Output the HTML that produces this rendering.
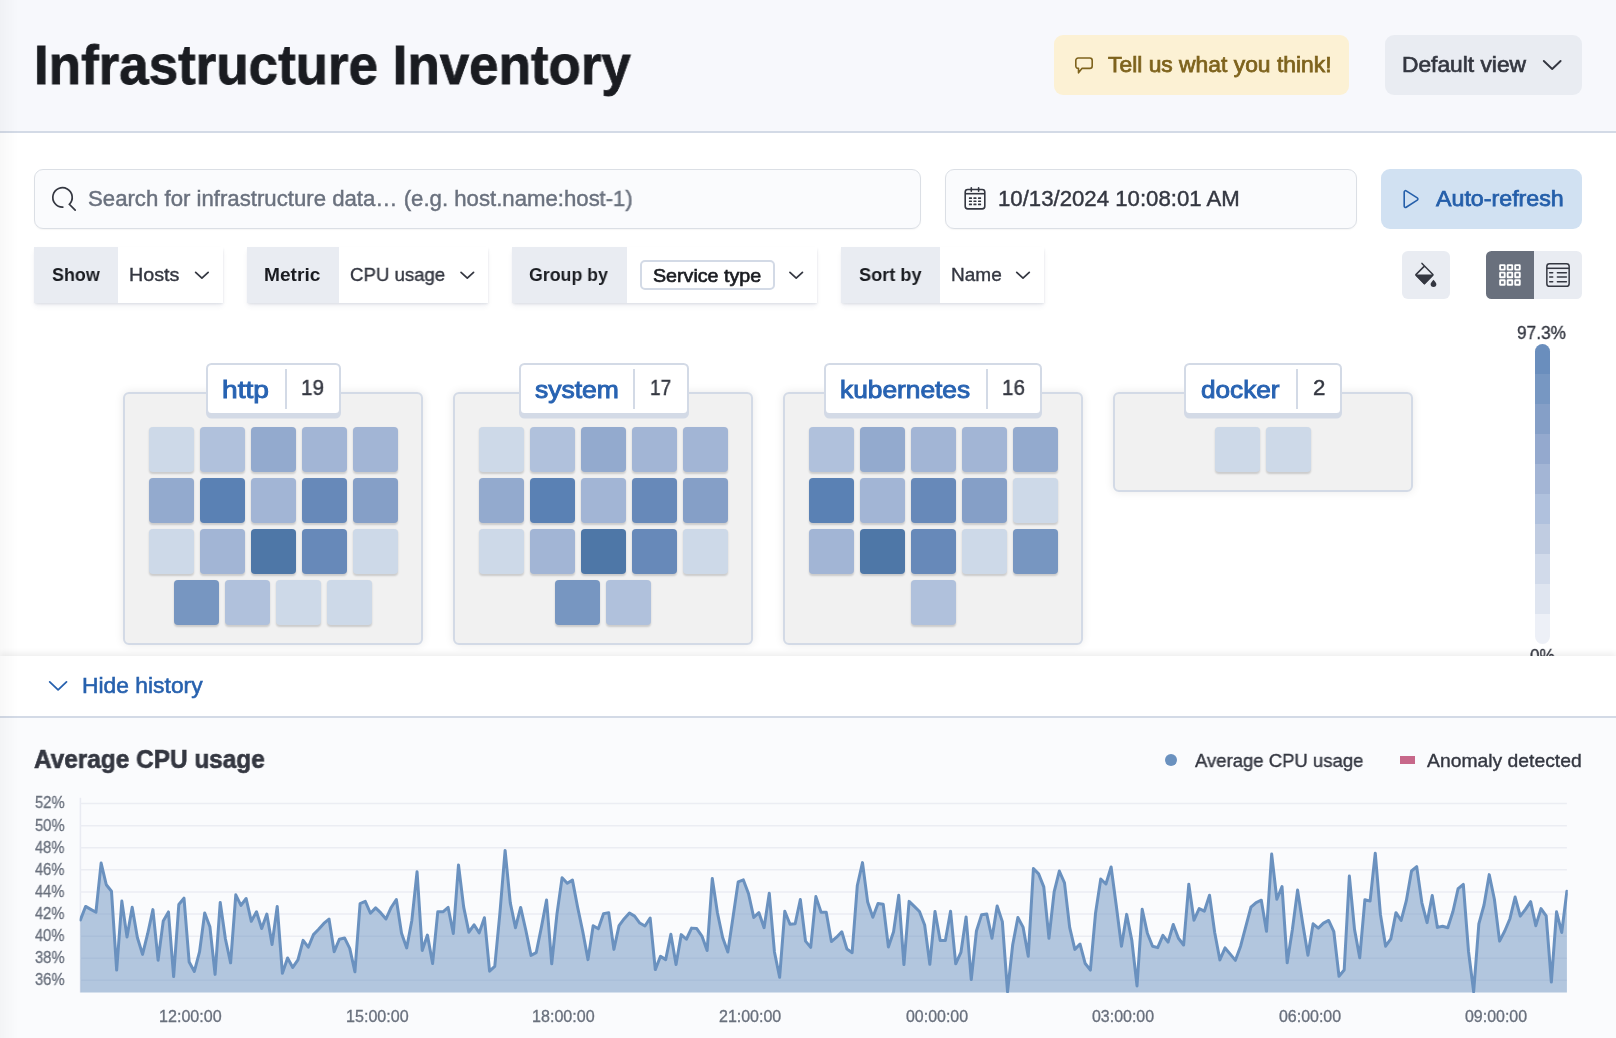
<!DOCTYPE html>
<html><head><meta charset="utf-8"><title>Infrastructure Inventory</title>
<style>
html,body{margin:0;padding:0;}
body{width:1616px;height:1038px;overflow:hidden;position:relative;background:#fff;font-family:"Liberation Sans",sans-serif;}
.a{position:absolute;}
.t{position:absolute;line-height:1;white-space:nowrap;transform-origin:0 0;will-change:transform;}
svg{overflow:visible;}
</style></head><body>
<div class="a" style="left:0px;top:0px;width:1616px;height:131px;background:#F7F8FC;"></div>
<div class="a" style="left:0px;top:131px;width:1616px;height:2px;background:#D3DAE6;"></div>
<div class="t" style="left:34.03px;top:37.74px;font-size:55px;font-weight:bold;color:#1A1C21;transform:scaleX(0.9620);-webkit-text-stroke:0.8px #1A1C21;">Infrastructure Inventory</div>
<div class="a" style="left:1054px;top:35px;width:295px;height:60px;background:#FCF1D4;border-radius:9px;"></div>
<div class="t" style="left:1107.96px;top:53.81px;font-size:22.2px;font-weight:normal;color:#7E631D;transform:scaleX(1.0297);-webkit-text-stroke:0.75px #7E631D;">Tell us what you think!</div>
<svg class="a" style="left:0;top:0" width="1616" height="1038" viewBox="0 0 1616 1038"><path d="M1078.2 58 H1089.8 a2.4 2.4 0 0 1 2.4 2.4 V66 a2.4 2.4 0 0 1 -2.4 2.4 H1081.9 L1078.5 72.8 V68.4 a2.4 2.4 0 0 1 -2.7 -2.4 V60.4 a2.4 2.4 0 0 1 2.4 -2.4 Z" fill="none" stroke="#7E631D" stroke-width="1.6" stroke-linejoin="round"/></svg>
<div class="a" style="left:1385px;top:35px;width:197px;height:60px;background:#E9ECF2;border-radius:9px;"></div>
<div class="t" style="left:1402.27px;top:53.91px;font-size:22.2px;font-weight:normal;color:#343741;transform:scaleX(1.0264);-webkit-text-stroke:0.7px #343741;">Default view</div>
<svg class="a" style="left:0;top:0" width="1616" height="1038" viewBox="0 0 1616 1038"><path d="M1543.80 61.00 L1552.20 69.00 L1560.60 61.00" fill="none" stroke="#343741" stroke-width="1.9" stroke-linecap="round" stroke-linejoin="round"/></svg>
<div class="a" style="left:34px;top:169px;width:887px;height:60px;background:#FAFBFD;border:1.7px solid #DBDFE5;border-radius:9px;box-sizing:border-box;box-shadow:0 1px 1.5px rgba(0,0,0,.04);"></div>
<svg class="a" style="left:0;top:0" width="1616" height="1038" viewBox="0 0 1616 1038"><path d="M62.84 207.09 A9.7 9.7 0 1 1 69.36 204.26 L75.2 210.2" fill="none" stroke="#343741" stroke-width="1.7" stroke-linecap="round" stroke-linejoin="miter"/></svg>
<div class="t" style="left:88.02px;top:187.91px;font-size:22.2px;font-weight:normal;color:#6A717E;transform:scaleX(0.9992);-webkit-text-stroke:0.44px #6A717E;">Search for infrastructure data… (e.g. host.name:host-1)</div>
<div class="a" style="left:945px;top:169px;width:412px;height:60px;background:#FAFBFD;border:1.7px solid #DBDFE5;border-radius:9px;box-sizing:border-box;box-shadow:0 1px 1.5px rgba(0,0,0,.04);"></div>
<div class="t" style="left:998.36px;top:187.91px;font-size:22.2px;font-weight:normal;color:#343741;transform:scaleX(0.9995);-webkit-text-stroke:0.44px #343741;">10/13/2024 10:08:01 AM</div>
<svg class="a" style="left:0;top:0" width="1616" height="1038" viewBox="0 0 1616 1038"><g fill="none" stroke="#343741" stroke-width="1.6"><rect x="965.2" y="189.5" width="19.6" height="19.4" rx="2.6"/><path d="M965.2 193.7H984.8"/><path d="M971.3 187.7V191.3M978.6 187.7V191.3" stroke-linecap="round"/></g><g fill="#343741"><rect x="968.9" y="197.3" width="3.1" height="1.7" rx="0.5"/><rect x="973.4" y="197.3" width="3.1" height="1.7" rx="0.5"/><rect x="978.0" y="197.3" width="3.1" height="1.7" rx="0.5"/><rect x="968.9" y="200.4" width="3.1" height="1.7" rx="0.5"/><rect x="973.4" y="200.4" width="3.1" height="1.7" rx="0.5"/><rect x="978.0" y="200.4" width="3.1" height="1.7" rx="0.5"/><rect x="968.9" y="203.5" width="3.1" height="1.7" rx="0.5"/><rect x="973.4" y="203.5" width="3.1" height="1.7" rx="0.5"/><rect x="978.0" y="203.5" width="3.1" height="1.7" rx="0.5"/></g></svg>
<div class="a" style="left:1381px;top:169px;width:201px;height:60px;background:#D1E1F2;border-radius:9px;"></div>
<div class="t" style="left:1436.12px;top:187.71px;font-size:22.2px;font-weight:normal;color:#255FAA;transform:scaleX(1.0467);-webkit-text-stroke:0.75px #255FAA;">Auto-refresh</div>
<svg class="a" style="left:0;top:0" width="1616" height="1038" viewBox="0 0 1616 1038"><path d="M1404.20 191.97 A1.3 1.3 0 0 1 1406.20 190.88 L1417.28 197.95 A1.3 1.3 0 0 1 1417.28 200.15 L1406.20 207.22 A1.3 1.3 0 0 1 1404.20 206.13 Z" fill="none" stroke="#255FAA" stroke-width="1.6"/></svg>
<div class="a" style="left:34px;top:247px;width:189px;height:56px;background:#fff;box-shadow:0 1.5px 2.5px -0.5px rgba(60,75,110,.15),0 4px 6px -1px rgba(60,75,110,.07);"></div>
<div class="a" style="left:34px;top:247px;width:84px;height:56px;background:#E9ECF2;"></div>
<div class="t" style="left:52.01px;top:265.42px;font-size:19px;font-weight:bold;color:#1A1C21;transform:scaleX(0.9410);">Show</div>
<div class="t" style="left:129.36px;top:265.42px;font-size:19px;font-weight:normal;color:#343741;transform:scaleX(1.0390);-webkit-text-stroke:0.38px #343741;">Hosts</div>
<svg class="a" style="left:0;top:0" width="1616" height="1038" viewBox="0 0 1616 1038"><path d="M195.65 272.35 L201.90 278.05 L208.15 272.35" fill="none" stroke="#343741" stroke-width="1.75" stroke-linecap="round" stroke-linejoin="round"/></svg>
<div class="a" style="left:247px;top:247px;width:241px;height:56px;background:#fff;box-shadow:0 1.5px 2.5px -0.5px rgba(60,75,110,.15),0 4px 6px -1px rgba(60,75,110,.07);"></div>
<div class="a" style="left:247px;top:247px;width:92px;height:56px;background:#E9ECF2;"></div>
<div class="t" style="left:263.71px;top:265.42px;font-size:19px;font-weight:bold;color:#1A1C21;transform:scaleX(1.0065);">Metric</div>
<div class="t" style="left:350.26px;top:265.42px;font-size:19px;font-weight:normal;color:#343741;transform:scaleX(0.9795);-webkit-text-stroke:0.38px #343741;">CPU usage</div>
<svg class="a" style="left:0;top:0" width="1616" height="1038" viewBox="0 0 1616 1038"><path d="M461.05 272.35 L467.30 278.05 L473.55 272.35" fill="none" stroke="#343741" stroke-width="1.75" stroke-linecap="round" stroke-linejoin="round"/></svg>
<div class="a" style="left:512px;top:247px;width:305px;height:56px;background:#fff;box-shadow:0 1.5px 2.5px -0.5px rgba(60,75,110,.15),0 4px 6px -1px rgba(60,75,110,.07);"></div>
<div class="a" style="left:512px;top:247px;width:115px;height:56px;background:#E9ECF2;"></div>
<div class="t" style="left:529.49px;top:265.42px;font-size:19px;font-weight:bold;color:#1A1C21;transform:scaleX(0.9335);">Group by</div>
<div class="a" style="left:639.7px;top:259.5px;width:135.0px;height:30.0px;background:#fff;border:2px solid #D3DAE6;border-radius:5px;box-sizing:border-box;"></div>
<div class="t" style="left:652.74px;top:266.32px;font-size:19px;font-weight:normal;color:#1A1C21;transform:scaleX(1.0347);-webkit-text-stroke:0.65px #1A1C21;">Service type</div>
<svg class="a" style="left:0;top:0" width="1616" height="1038" viewBox="0 0 1616 1038"><path d="M789.95 272.35 L796.20 278.05 L802.45 272.35" fill="none" stroke="#343741" stroke-width="1.75" stroke-linecap="round" stroke-linejoin="round"/></svg>
<div class="a" style="left:841px;top:247px;width:203px;height:56px;background:#fff;box-shadow:0 1.5px 2.5px -0.5px rgba(60,75,110,.15),0 4px 6px -1px rgba(60,75,110,.07);"></div>
<div class="a" style="left:841px;top:247px;width:99px;height:56px;background:#E9ECF2;"></div>
<div class="t" style="left:859.10px;top:265.42px;font-size:19px;font-weight:bold;color:#1A1C21;transform:scaleX(0.9547);">Sort by</div>
<div class="t" style="left:951.32px;top:265.42px;font-size:19px;font-weight:normal;color:#343741;transform:scaleX(1.0003);-webkit-text-stroke:0.38px #343741;">Name</div>
<svg class="a" style="left:0;top:0" width="1616" height="1038" viewBox="0 0 1616 1038"><path d="M1016.75 272.35 L1023.00 278.05 L1029.25 272.35" fill="none" stroke="#343741" stroke-width="1.75" stroke-linecap="round" stroke-linejoin="round"/></svg>
<div class="a" style="left:1402px;top:251px;width:48px;height:48px;background:#E9ECF2;border-radius:6px;"></div>
<svg class="a" style="left:0;top:0" width="1616" height="1038" viewBox="0 0 1616 1038"><g stroke="#343741" stroke-width="1.5" stroke-linejoin="round" stroke-linecap="round"><path d="M1422 263.4 L1432.9 274.6 L1424.4 283.4 L1415.9 274.6 L1424.4 266.1" fill="none"/><path d="M1416 275.3 H1432.8 L1424.4 283.6 Z" fill="#343741"/></g><path d="M1433.5 279.7 C1435.5 282 1436.4 283.2 1436.4 284.1 A2.9 2.9 0 0 1 1430.6 284.1 C1430.6 283.2 1431.5 282 1433.5 279.7 Z" fill="#343741"/></svg>
<div class="a" style="left:1486px;top:251px;width:48px;height:48px;background:#69707D;border-radius:5.5px 0 0 5.5px;"></div>
<div class="a" style="left:1534px;top:251px;width:48px;height:48px;background:#E9ECF2;border-radius:0 5.5px 5.5px 0;"></div>
<svg class="a" style="left:0;top:0" width="1616" height="1038" viewBox="0 0 1616 1038"><g fill="none" stroke="#fff" stroke-width="1.85"><rect x="1500.12" y="265.12" width="4.55" height="4.55" rx="0.3"/><rect x="1507.67" y="265.12" width="4.55" height="4.55" rx="0.3"/><rect x="1515.22" y="265.12" width="4.55" height="4.55" rx="0.3"/><rect x="1500.12" y="272.67" width="4.55" height="4.55" rx="0.3"/><rect x="1507.67" y="272.67" width="4.55" height="4.55" rx="0.3"/><rect x="1515.22" y="272.67" width="4.55" height="4.55" rx="0.3"/><rect x="1500.12" y="280.22" width="4.55" height="4.55" rx="0.3"/><rect x="1507.67" y="280.22" width="4.55" height="4.55" rx="0.3"/><rect x="1515.22" y="280.22" width="4.55" height="4.55" rx="0.3"/></g></svg>
<svg class="a" style="left:0;top:0" width="1616" height="1038" viewBox="0 0 1616 1038"><g fill="none" stroke="#343741" stroke-width="1.5"><rect x="1546.85" y="263.65" width="22.3" height="22.7" rx="2.7"/><path d="M1546.85 268.3H1569.15"/><path stroke-linecap="round" d="M1549.7 272.7H1552.7M1557.4 272.7H1566.4M1549.7 277.1H1552.7M1557.4 277.1H1566.4M1549.7 281.7H1552.7M1557.4 281.7H1566.4"/></g></svg>
<div class="a" style="left:123px;top:392px;width:300px;height:253px;background:#F1F1F1;border:2px solid #D3DAE6;border-radius:6px;box-sizing:border-box;box-shadow:0 0 10px rgba(0,0,0,.09);"></div>
<div class="a" style="left:148.5px;top:427px;width:45.0px;height:45px;background:#CDD9E8;border-radius:4px;box-shadow:0 1.5px 2px rgba(0,0,0,.16);"></div>
<div class="a" style="left:199.5px;top:427px;width:45.0px;height:45px;background:#B0C1DC;border-radius:4px;box-shadow:0 1.5px 2px rgba(0,0,0,.16);"></div>
<div class="a" style="left:250.5px;top:427px;width:45.0px;height:45px;background:#93AACE;border-radius:4px;box-shadow:0 1.5px 2px rgba(0,0,0,.16);"></div>
<div class="a" style="left:301.5px;top:427px;width:45.0px;height:45px;background:#A2B5D5;border-radius:4px;box-shadow:0 1.5px 2px rgba(0,0,0,.16);"></div>
<div class="a" style="left:352.5px;top:427px;width:45.0px;height:45px;background:#A2B5D5;border-radius:4px;box-shadow:0 1.5px 2px rgba(0,0,0,.16);"></div>
<div class="a" style="left:148.5px;top:478px;width:45.0px;height:45px;background:#93AACE;border-radius:4px;box-shadow:0 1.5px 2px rgba(0,0,0,.16);"></div>
<div class="a" style="left:199.5px;top:478px;width:45.0px;height:45px;background:#5A81B4;border-radius:4px;box-shadow:0 1.5px 2px rgba(0,0,0,.16);"></div>
<div class="a" style="left:250.5px;top:478px;width:45.0px;height:45px;background:#A2B5D5;border-radius:4px;box-shadow:0 1.5px 2px rgba(0,0,0,.16);"></div>
<div class="a" style="left:301.5px;top:478px;width:45.0px;height:45px;background:#6789B9;border-radius:4px;box-shadow:0 1.5px 2px rgba(0,0,0,.16);"></div>
<div class="a" style="left:352.5px;top:478px;width:45.0px;height:45px;background:#859FC7;border-radius:4px;box-shadow:0 1.5px 2px rgba(0,0,0,.16);"></div>
<div class="a" style="left:148.5px;top:529px;width:45.0px;height:45px;background:#CDD9E8;border-radius:4px;box-shadow:0 1.5px 2px rgba(0,0,0,.16);"></div>
<div class="a" style="left:199.5px;top:529px;width:45.0px;height:45px;background:#A2B5D5;border-radius:4px;box-shadow:0 1.5px 2px rgba(0,0,0,.16);"></div>
<div class="a" style="left:250.5px;top:529px;width:45.0px;height:45px;background:#4E77A7;border-radius:4px;box-shadow:0 1.5px 2px rgba(0,0,0,.16);"></div>
<div class="a" style="left:301.5px;top:529px;width:45.0px;height:45px;background:#6789B9;border-radius:4px;box-shadow:0 1.5px 2px rgba(0,0,0,.16);"></div>
<div class="a" style="left:352.5px;top:529px;width:45.0px;height:45px;background:#CDD9E8;border-radius:4px;box-shadow:0 1.5px 2px rgba(0,0,0,.16);"></div>
<div class="a" style="left:174.0px;top:580px;width:45.0px;height:45px;background:#7796C1;border-radius:4px;box-shadow:0 1.5px 2px rgba(0,0,0,.16);"></div>
<div class="a" style="left:225.0px;top:580px;width:45.0px;height:45px;background:#B0C1DC;border-radius:4px;box-shadow:0 1.5px 2px rgba(0,0,0,.16);"></div>
<div class="a" style="left:276.0px;top:580px;width:45.0px;height:45px;background:#CDD9E8;border-radius:4px;box-shadow:0 1.5px 2px rgba(0,0,0,.16);"></div>
<div class="a" style="left:327.0px;top:580px;width:45.0px;height:45px;background:#CDD9E8;border-radius:4px;box-shadow:0 1.5px 2px rgba(0,0,0,.16);"></div>
<div class="a" style="left:206px;top:363px;width:134.5px;height:51.60000000000002px;background:#fff;border:2px solid #D3DAE6;border-radius:5.5px;box-sizing:border-box;box-shadow:0 3.5px 0 0 #D3DAE6;"></div>
<div class="a" style="left:285.25px;top:369px;width:1.5px;height:39.69999999999999px;background:#D3DAE6;"></div>
<div class="t" style="left:222.28px;top:377.71px;font-size:24.8px;font-weight:normal;color:#2863B2;transform:scaleX(1.1334);-webkit-text-stroke:0.95px #2863B2;">http</div>
<div class="t" style="left:300.76px;top:378.40px;font-size:21.5px;font-weight:normal;color:#343741;transform:scaleX(0.9617);-webkit-text-stroke:0.43px #343741;">19</div>
<div class="a" style="left:453px;top:392px;width:300px;height:253px;background:#F1F1F1;border:2px solid #D3DAE6;border-radius:6px;box-sizing:border-box;box-shadow:0 0 10px rgba(0,0,0,.09);"></div>
<div class="a" style="left:478.5px;top:427px;width:45.0px;height:45px;background:#CDD9E8;border-radius:4px;box-shadow:0 1.5px 2px rgba(0,0,0,.16);"></div>
<div class="a" style="left:529.5px;top:427px;width:45.0px;height:45px;background:#B0C1DC;border-radius:4px;box-shadow:0 1.5px 2px rgba(0,0,0,.16);"></div>
<div class="a" style="left:580.5px;top:427px;width:45.0px;height:45px;background:#93AACE;border-radius:4px;box-shadow:0 1.5px 2px rgba(0,0,0,.16);"></div>
<div class="a" style="left:631.5px;top:427px;width:45.0px;height:45px;background:#A2B5D5;border-radius:4px;box-shadow:0 1.5px 2px rgba(0,0,0,.16);"></div>
<div class="a" style="left:682.5px;top:427px;width:45.0px;height:45px;background:#A2B5D5;border-radius:4px;box-shadow:0 1.5px 2px rgba(0,0,0,.16);"></div>
<div class="a" style="left:478.5px;top:478px;width:45.0px;height:45px;background:#93AACE;border-radius:4px;box-shadow:0 1.5px 2px rgba(0,0,0,.16);"></div>
<div class="a" style="left:529.5px;top:478px;width:45.0px;height:45px;background:#5A81B4;border-radius:4px;box-shadow:0 1.5px 2px rgba(0,0,0,.16);"></div>
<div class="a" style="left:580.5px;top:478px;width:45.0px;height:45px;background:#A2B5D5;border-radius:4px;box-shadow:0 1.5px 2px rgba(0,0,0,.16);"></div>
<div class="a" style="left:631.5px;top:478px;width:45.0px;height:45px;background:#6789B9;border-radius:4px;box-shadow:0 1.5px 2px rgba(0,0,0,.16);"></div>
<div class="a" style="left:682.5px;top:478px;width:45.0px;height:45px;background:#859FC7;border-radius:4px;box-shadow:0 1.5px 2px rgba(0,0,0,.16);"></div>
<div class="a" style="left:478.5px;top:529px;width:45.0px;height:45px;background:#CDD9E8;border-radius:4px;box-shadow:0 1.5px 2px rgba(0,0,0,.16);"></div>
<div class="a" style="left:529.5px;top:529px;width:45.0px;height:45px;background:#A2B5D5;border-radius:4px;box-shadow:0 1.5px 2px rgba(0,0,0,.16);"></div>
<div class="a" style="left:580.5px;top:529px;width:45.0px;height:45px;background:#4E77A7;border-radius:4px;box-shadow:0 1.5px 2px rgba(0,0,0,.16);"></div>
<div class="a" style="left:631.5px;top:529px;width:45.0px;height:45px;background:#6789B9;border-radius:4px;box-shadow:0 1.5px 2px rgba(0,0,0,.16);"></div>
<div class="a" style="left:682.5px;top:529px;width:45.0px;height:45px;background:#CDD9E8;border-radius:4px;box-shadow:0 1.5px 2px rgba(0,0,0,.16);"></div>
<div class="a" style="left:555.0px;top:580px;width:45.0px;height:45px;background:#7796C1;border-radius:4px;box-shadow:0 1.5px 2px rgba(0,0,0,.16);"></div>
<div class="a" style="left:606.0px;top:580px;width:45.0px;height:45px;background:#B0C1DC;border-radius:4px;box-shadow:0 1.5px 2px rgba(0,0,0,.16);"></div>
<div class="a" style="left:518.5px;top:363px;width:170.0px;height:51.60000000000002px;background:#fff;border:2px solid #D3DAE6;border-radius:5.5px;box-sizing:border-box;box-shadow:0 3.5px 0 0 #D3DAE6;"></div>
<div class="a" style="left:633.35px;top:369px;width:1.5px;height:39.69999999999999px;background:#D3DAE6;"></div>
<div class="t" style="left:534.75px;top:377.71px;font-size:24.8px;font-weight:normal;color:#2863B2;transform:scaleX(1.0681);-webkit-text-stroke:0.95px #2863B2;">system</div>
<div class="t" style="left:649.59px;top:378.40px;font-size:21.5px;font-weight:normal;color:#343741;transform:scaleX(0.8841);-webkit-text-stroke:0.43px #343741;">17</div>
<div class="a" style="left:783px;top:392px;width:300px;height:253px;background:#F1F1F1;border:2px solid #D3DAE6;border-radius:6px;box-sizing:border-box;box-shadow:0 0 10px rgba(0,0,0,.09);"></div>
<div class="a" style="left:808.5px;top:427px;width:45.0px;height:45px;background:#B0C1DC;border-radius:4px;box-shadow:0 1.5px 2px rgba(0,0,0,.16);"></div>
<div class="a" style="left:859.5px;top:427px;width:45.0px;height:45px;background:#93AACE;border-radius:4px;box-shadow:0 1.5px 2px rgba(0,0,0,.16);"></div>
<div class="a" style="left:910.5px;top:427px;width:45.0px;height:45px;background:#A2B5D5;border-radius:4px;box-shadow:0 1.5px 2px rgba(0,0,0,.16);"></div>
<div class="a" style="left:961.5px;top:427px;width:45.0px;height:45px;background:#A2B5D5;border-radius:4px;box-shadow:0 1.5px 2px rgba(0,0,0,.16);"></div>
<div class="a" style="left:1012.5px;top:427px;width:45.0px;height:45px;background:#93AACE;border-radius:4px;box-shadow:0 1.5px 2px rgba(0,0,0,.16);"></div>
<div class="a" style="left:808.5px;top:478px;width:45.0px;height:45px;background:#5A81B4;border-radius:4px;box-shadow:0 1.5px 2px rgba(0,0,0,.16);"></div>
<div class="a" style="left:859.5px;top:478px;width:45.0px;height:45px;background:#A2B5D5;border-radius:4px;box-shadow:0 1.5px 2px rgba(0,0,0,.16);"></div>
<div class="a" style="left:910.5px;top:478px;width:45.0px;height:45px;background:#6789B9;border-radius:4px;box-shadow:0 1.5px 2px rgba(0,0,0,.16);"></div>
<div class="a" style="left:961.5px;top:478px;width:45.0px;height:45px;background:#859FC7;border-radius:4px;box-shadow:0 1.5px 2px rgba(0,0,0,.16);"></div>
<div class="a" style="left:1012.5px;top:478px;width:45.0px;height:45px;background:#CDD9E8;border-radius:4px;box-shadow:0 1.5px 2px rgba(0,0,0,.16);"></div>
<div class="a" style="left:808.5px;top:529px;width:45.0px;height:45px;background:#A2B5D5;border-radius:4px;box-shadow:0 1.5px 2px rgba(0,0,0,.16);"></div>
<div class="a" style="left:859.5px;top:529px;width:45.0px;height:45px;background:#4E77A7;border-radius:4px;box-shadow:0 1.5px 2px rgba(0,0,0,.16);"></div>
<div class="a" style="left:910.5px;top:529px;width:45.0px;height:45px;background:#6789B9;border-radius:4px;box-shadow:0 1.5px 2px rgba(0,0,0,.16);"></div>
<div class="a" style="left:961.5px;top:529px;width:45.0px;height:45px;background:#CDD9E8;border-radius:4px;box-shadow:0 1.5px 2px rgba(0,0,0,.16);"></div>
<div class="a" style="left:1012.5px;top:529px;width:45.0px;height:45px;background:#7796C1;border-radius:4px;box-shadow:0 1.5px 2px rgba(0,0,0,.16);"></div>
<div class="a" style="left:910.5px;top:580px;width:45.0px;height:45px;background:#B0C1DC;border-radius:4px;box-shadow:0 1.5px 2px rgba(0,0,0,.16);"></div>
<div class="a" style="left:824.4px;top:363px;width:217.39999999999998px;height:51.60000000000002px;background:#fff;border:2px solid #D3DAE6;border-radius:5.5px;box-sizing:border-box;box-shadow:0 3.5px 0 0 #D3DAE6;"></div>
<div class="a" style="left:986.35px;top:369px;width:1.5px;height:39.69999999999999px;background:#D3DAE6;"></div>
<div class="t" style="left:840.40px;top:377.71px;font-size:24.8px;font-weight:normal;color:#2863B2;transform:scaleX(1.0607);-webkit-text-stroke:0.95px #2863B2;">kubernetes</div>
<div class="t" style="left:1002.17px;top:378.40px;font-size:21.5px;font-weight:normal;color:#343741;transform:scaleX(0.9593);-webkit-text-stroke:0.43px #343741;">16</div>
<div class="a" style="left:1113px;top:392px;width:300px;height:100px;background:#F1F1F1;border:2px solid #D3DAE6;border-radius:6px;box-sizing:border-box;box-shadow:0 0 10px rgba(0,0,0,.09);"></div>
<div class="a" style="left:1215.0px;top:427px;width:45.0px;height:45px;background:#CDD9E8;border-radius:4px;box-shadow:0 1.5px 2px rgba(0,0,0,.16);"></div>
<div class="a" style="left:1266.0px;top:427px;width:45.0px;height:45px;background:#CDD9E8;border-radius:4px;box-shadow:0 1.5px 2px rgba(0,0,0,.16);"></div>
<div class="a" style="left:1184.3px;top:363px;width:157.5px;height:51.60000000000002px;background:#fff;border:2px solid #D3DAE6;border-radius:5.5px;box-sizing:border-box;box-shadow:0 3.5px 0 0 #D3DAE6;"></div>
<div class="a" style="left:1296.25px;top:369px;width:1.5px;height:39.69999999999999px;background:#D3DAE6;"></div>
<div class="t" style="left:1201.06px;top:377.71px;font-size:24.8px;font-weight:normal;color:#2863B2;transform:scaleX(1.0559);-webkit-text-stroke:0.95px #2863B2;">docker</div>
<div class="t" style="left:1312.50px;top:378.40px;font-size:21.5px;font-weight:normal;color:#343741;transform:scaleX(1.0339);-webkit-text-stroke:0.43px #343741;">2</div>
<div class="a" style="left:1535px;top:344px;width:15px;height:300px;border-radius:7.5px;background:linear-gradient(to bottom,#6A8EBD 0% 10%,#7797C2 10% 20%,#859FC7 20% 30%,#94A9CE 30% 40%,#A3B5D5 40% 50%,#B0C1DD 50% 60%,#C0CCE1 60% 70%,#D1DAEA 70% 80%,#DFE5F0 80% 90%,#EDF0F7 90% 100%);"></div>
<div class="t" style="left:1517.17px;top:323.22px;font-size:19px;font-weight:normal;color:#343741;transform:scaleX(0.9078);-webkit-text-stroke:0.38px #343741;">97.3%</div>
<div class="t" style="left:1529.75px;top:646.32px;font-size:19px;font-weight:normal;color:#343741;transform:scaleX(0.8981);-webkit-text-stroke:0.38px #343741;">0%</div>
<div class="a" style="left:0px;top:656px;width:1616px;height:61px;background:#fff;box-shadow:0 -3px 6px rgba(0,0,0,.065);"></div>
<div class="a" style="left:0px;top:716px;width:1616px;height:2px;background:#D3DAE6;"></div>
<div class="a" style="left:0px;top:718px;width:1616px;height:320px;background:#FAFBFD;"></div>
<svg class="a" style="left:0;top:0" width="1616" height="1038" viewBox="0 0 1616 1038"><path d="M49.70 681.95 L58.10 689.85 L66.50 681.95" fill="none" stroke="#2761AE" stroke-width="1.8" stroke-linecap="round" stroke-linejoin="round"/></svg>
<div class="t" style="left:81.59px;top:675.01px;font-size:22.2px;font-weight:normal;color:#2761AE;transform:scaleX(1.0297);-webkit-text-stroke:0.55px #2761AE;">Hide history</div>
<div class="t" style="left:34.19px;top:746.97px;font-size:25.2px;font-weight:bold;color:#343741;transform:scaleX(0.9677);-webkit-text-stroke:0.6px #343741;">Average CPU usage</div>
<div class="a" style="left:1164.8px;top:754px;width:12.0px;height:12px;background:#6A91BF;border-radius:50%;"></div>
<div class="t" style="left:1195.24px;top:750.92px;font-size:19px;font-weight:normal;color:#343741;transform:scaleX(0.9740);-webkit-text-stroke:0.38px #343741;">Average CPU usage</div>
<div class="a" style="left:1400px;top:756px;width:15px;height:8px;background:#C7688A;"></div>
<div class="t" style="left:1427.34px;top:750.92px;font-size:19px;font-weight:normal;color:#343741;transform:scaleX(1.0170);-webkit-text-stroke:0.38px #343741;">Anomaly detected</div>
<svg class="a" style="left:0;top:0" width="1616" height="1038" viewBox="0 0 1616 1038"><defs><clipPath id="cc"><rect x="79.6" y="796" width="1488.2" height="196.9"/></clipPath></defs><path d="M80.4 797.8V992.6" stroke="#E9EBF2" stroke-width="1.5"/><path d="M80.4 803.60H1566.9" stroke="#EBEDF3" stroke-width="1.5"/><path d="M80.4 825.69H1566.9" stroke="#EBEDF3" stroke-width="1.5"/><path d="M80.4 847.78H1566.9" stroke="#EBEDF3" stroke-width="1.5"/><path d="M80.4 869.87H1566.9" stroke="#EBEDF3" stroke-width="1.5"/><path d="M80.4 891.96H1566.9" stroke="#EBEDF3" stroke-width="1.5"/><path d="M80.4 914.05H1566.9" stroke="#EBEDF3" stroke-width="1.5"/><path d="M80.4 936.14H1566.9" stroke="#EBEDF3" stroke-width="1.5"/><path d="M80.4 958.23H1566.9" stroke="#EBEDF3" stroke-width="1.5"/><path d="M80.4 980.32H1566.9" stroke="#EBEDF3" stroke-width="1.5"/><g clip-path="url(#cc)"><path d="M80.40 919.88 L85.58 906.43 L90.76 909.32 L95.94 912.22 L101.12 863.07 L106.30 884.75 L111.48 891.26 L116.66 970.04 L121.84 901.09 L127.01 937.08 L132.19 907.16 L137.37 937.51 L142.55 954.42 L147.73 933.46 L152.91 909.61 L158.09 960.21 L163.27 920.89 L168.45 911.93 L173.63 976.54 L178.81 904.55 L183.99 898.19 L189.17 962.09 L194.35 971.48 L199.53 951.97 L204.71 912.94 L209.89 926.67 L215.07 974.37 L220.24 902.39 L225.42 938.96 L230.60 962.81 L235.78 894.87 L240.96 905.42 L246.14 898.48 L251.32 921.32 L256.50 911.78 L261.68 928.55 L266.86 914.10 L272.04 944.45 L277.22 906.43 L282.40 973.36 L287.58 958.04 L292.76 967.43 L297.94 959.92 L303.12 940.40 L308.30 947.20 L313.47 934.62 L318.65 929.27 L323.83 923.49 L329.01 919.01 L334.19 951.68 L339.37 939.25 L344.55 937.95 L349.73 948.35 L354.91 971.77 L360.09 903.54 L365.27 901.37 L370.45 913.23 L375.63 907.88 L380.81 912.94 L385.99 919.01 L391.17 907.45 L396.35 899.50 L401.53 933.18 L406.70 947.92 L411.88 920.17 L417.06 871.74 L422.24 950.52 L427.42 935.05 L432.60 963.53 L437.78 911.78 L442.96 911.78 L448.14 907.45 L453.32 933.46 L458.50 864.95 L463.68 907.16 L468.86 932.16 L474.04 924.79 L479.22 932.89 L484.40 917.71 L489.58 971.19 L494.76 966.42 L499.93 912.94 L505.11 850.49 L510.29 902.82 L515.47 927.68 L520.65 907.45 L525.83 930.28 L531.01 955.36 L536.19 952.69 L541.37 927.39 L546.55 899.93 L551.73 963.82 L556.91 914.38 L562.09 877.81 L567.27 883.31 L572.45 880.13 L577.63 907.16 L582.81 931.73 L587.99 959.63 L593.16 925.66 L598.34 928.84 L603.52 913.66 L608.70 912.65 L613.88 949.37 L619.06 925.66 L624.24 918.72 L629.42 912.94 L634.60 916.12 L639.78 923.06 L644.96 925.95 L650.14 918.00 L655.32 969.60 L660.50 956.30 L665.68 959.63 L670.86 934.19 L676.04 964.54 L681.22 934.62 L686.39 939.25 L691.57 928.12 L696.75 928.55 L701.93 936.07 L707.11 950.52 L712.29 878.54 L717.47 912.94 L722.65 937.51 L727.83 951.97 L733.01 917.28 L738.19 881.86 L743.37 879.91 L748.55 893.79 L753.73 917.42 L758.91 912.65 L764.09 927.68 L769.27 893.14 L774.45 951.97 L779.62 977.26 L784.80 911.20 L789.98 924.21 L795.16 923.78 L800.34 899.50 L805.52 941.13 L810.70 947.34 L815.88 896.60 L821.06 912.22 L826.24 912.22 L831.42 941.56 L836.60 937.22 L841.78 931.73 L846.96 949.08 L852.14 952.69 L857.32 885.47 L862.50 862.64 L867.68 902.10 L872.85 917.28 L878.03 903.54 L883.21 904.27 L888.39 946.91 L893.57 931.73 L898.75 895.30 L903.93 964.54 L909.11 901.37 L914.29 906.43 L919.47 911.49 L924.65 924.94 L929.83 964.25 L935.01 911.49 L940.19 940.40 L945.37 940.40 L950.55 911.20 L955.73 963.82 L960.91 952.47 L966.08 916.91 L971.26 979.58 L976.44 931.01 L981.62 914.67 L986.80 914.10 L991.98 938.24 L997.16 906.00 L1002.34 921.61 L1007.52 991.72 L1012.70 944.74 L1017.88 917.56 L1023.06 927.10 L1028.24 956.30 L1033.42 868.56 L1038.60 873.91 L1043.78 886.92 L1048.96 938.24 L1054.14 891.98 L1059.31 871.02 L1064.49 882.87 L1069.67 927.39 L1074.85 949.37 L1080.03 944.02 L1085.21 963.53 L1090.39 970.04 L1095.57 912.94 L1100.75 878.97 L1105.93 884.03 L1111.11 866.97 L1116.29 905.71 L1121.47 946.19 L1126.65 914.38 L1131.83 940.40 L1137.01 985.94 L1142.19 909.32 L1147.37 933.18 L1152.54 946.19 L1157.72 947.63 L1162.90 935.34 L1168.08 942.14 L1173.26 924.50 L1178.44 938.24 L1183.62 945.03 L1188.80 884.17 L1193.98 920.17 L1199.16 908.60 L1204.34 911.20 L1209.52 895.30 L1214.70 932.45 L1219.88 959.92 L1225.06 947.92 L1230.24 954.14 L1235.42 960.35 L1240.60 946.19 L1245.77 926.67 L1250.95 907.16 L1256.13 902.53 L1261.31 900.22 L1266.49 931.30 L1271.67 854.11 L1276.85 899.21 L1282.03 886.63 L1287.21 962.81 L1292.39 929.56 L1297.57 890.10 L1302.75 923.78 L1307.93 955.15 L1313.11 923.78 L1318.29 928.12 L1323.47 923.06 L1328.65 920.46 L1333.83 931.73 L1339.00 976.25 L1344.18 970.04 L1349.36 876.08 L1354.54 929.56 L1359.72 957.75 L1364.90 899.64 L1370.08 901.09 L1375.26 853.24 L1380.44 914.38 L1385.62 946.19 L1390.80 938.96 L1395.98 912.65 L1401.16 920.46 L1406.34 900.65 L1411.52 871.02 L1416.70 866.68 L1421.88 902.82 L1427.06 922.62 L1432.23 895.59 L1437.41 927.39 L1442.59 926.24 L1447.77 927.68 L1452.95 911.49 L1458.13 888.65 L1463.31 884.46 L1468.49 951.24 L1473.67 991.72 L1478.85 923.78 L1484.03 904.99 L1489.21 874.63 L1494.39 899.21 L1499.57 941.13 L1504.75 931.01 L1509.93 918.72 L1515.11 897.04 L1520.29 916.12 L1525.46 909.32 L1530.64 901.66 L1535.82 925.66 L1541.00 908.60 L1546.18 915.83 L1551.36 982.03 L1556.54 911.78 L1561.72 932.45 L1566.90 891.26 L1566.9 992.6 L80.4 992.6 Z" fill="#6A91BF" fill-opacity="0.5"/><path d="M80.40 919.88 L85.58 906.43 L90.76 909.32 L95.94 912.22 L101.12 863.07 L106.30 884.75 L111.48 891.26 L116.66 970.04 L121.84 901.09 L127.01 937.08 L132.19 907.16 L137.37 937.51 L142.55 954.42 L147.73 933.46 L152.91 909.61 L158.09 960.21 L163.27 920.89 L168.45 911.93 L173.63 976.54 L178.81 904.55 L183.99 898.19 L189.17 962.09 L194.35 971.48 L199.53 951.97 L204.71 912.94 L209.89 926.67 L215.07 974.37 L220.24 902.39 L225.42 938.96 L230.60 962.81 L235.78 894.87 L240.96 905.42 L246.14 898.48 L251.32 921.32 L256.50 911.78 L261.68 928.55 L266.86 914.10 L272.04 944.45 L277.22 906.43 L282.40 973.36 L287.58 958.04 L292.76 967.43 L297.94 959.92 L303.12 940.40 L308.30 947.20 L313.47 934.62 L318.65 929.27 L323.83 923.49 L329.01 919.01 L334.19 951.68 L339.37 939.25 L344.55 937.95 L349.73 948.35 L354.91 971.77 L360.09 903.54 L365.27 901.37 L370.45 913.23 L375.63 907.88 L380.81 912.94 L385.99 919.01 L391.17 907.45 L396.35 899.50 L401.53 933.18 L406.70 947.92 L411.88 920.17 L417.06 871.74 L422.24 950.52 L427.42 935.05 L432.60 963.53 L437.78 911.78 L442.96 911.78 L448.14 907.45 L453.32 933.46 L458.50 864.95 L463.68 907.16 L468.86 932.16 L474.04 924.79 L479.22 932.89 L484.40 917.71 L489.58 971.19 L494.76 966.42 L499.93 912.94 L505.11 850.49 L510.29 902.82 L515.47 927.68 L520.65 907.45 L525.83 930.28 L531.01 955.36 L536.19 952.69 L541.37 927.39 L546.55 899.93 L551.73 963.82 L556.91 914.38 L562.09 877.81 L567.27 883.31 L572.45 880.13 L577.63 907.16 L582.81 931.73 L587.99 959.63 L593.16 925.66 L598.34 928.84 L603.52 913.66 L608.70 912.65 L613.88 949.37 L619.06 925.66 L624.24 918.72 L629.42 912.94 L634.60 916.12 L639.78 923.06 L644.96 925.95 L650.14 918.00 L655.32 969.60 L660.50 956.30 L665.68 959.63 L670.86 934.19 L676.04 964.54 L681.22 934.62 L686.39 939.25 L691.57 928.12 L696.75 928.55 L701.93 936.07 L707.11 950.52 L712.29 878.54 L717.47 912.94 L722.65 937.51 L727.83 951.97 L733.01 917.28 L738.19 881.86 L743.37 879.91 L748.55 893.79 L753.73 917.42 L758.91 912.65 L764.09 927.68 L769.27 893.14 L774.45 951.97 L779.62 977.26 L784.80 911.20 L789.98 924.21 L795.16 923.78 L800.34 899.50 L805.52 941.13 L810.70 947.34 L815.88 896.60 L821.06 912.22 L826.24 912.22 L831.42 941.56 L836.60 937.22 L841.78 931.73 L846.96 949.08 L852.14 952.69 L857.32 885.47 L862.50 862.64 L867.68 902.10 L872.85 917.28 L878.03 903.54 L883.21 904.27 L888.39 946.91 L893.57 931.73 L898.75 895.30 L903.93 964.54 L909.11 901.37 L914.29 906.43 L919.47 911.49 L924.65 924.94 L929.83 964.25 L935.01 911.49 L940.19 940.40 L945.37 940.40 L950.55 911.20 L955.73 963.82 L960.91 952.47 L966.08 916.91 L971.26 979.58 L976.44 931.01 L981.62 914.67 L986.80 914.10 L991.98 938.24 L997.16 906.00 L1002.34 921.61 L1007.52 991.72 L1012.70 944.74 L1017.88 917.56 L1023.06 927.10 L1028.24 956.30 L1033.42 868.56 L1038.60 873.91 L1043.78 886.92 L1048.96 938.24 L1054.14 891.98 L1059.31 871.02 L1064.49 882.87 L1069.67 927.39 L1074.85 949.37 L1080.03 944.02 L1085.21 963.53 L1090.39 970.04 L1095.57 912.94 L1100.75 878.97 L1105.93 884.03 L1111.11 866.97 L1116.29 905.71 L1121.47 946.19 L1126.65 914.38 L1131.83 940.40 L1137.01 985.94 L1142.19 909.32 L1147.37 933.18 L1152.54 946.19 L1157.72 947.63 L1162.90 935.34 L1168.08 942.14 L1173.26 924.50 L1178.44 938.24 L1183.62 945.03 L1188.80 884.17 L1193.98 920.17 L1199.16 908.60 L1204.34 911.20 L1209.52 895.30 L1214.70 932.45 L1219.88 959.92 L1225.06 947.92 L1230.24 954.14 L1235.42 960.35 L1240.60 946.19 L1245.77 926.67 L1250.95 907.16 L1256.13 902.53 L1261.31 900.22 L1266.49 931.30 L1271.67 854.11 L1276.85 899.21 L1282.03 886.63 L1287.21 962.81 L1292.39 929.56 L1297.57 890.10 L1302.75 923.78 L1307.93 955.15 L1313.11 923.78 L1318.29 928.12 L1323.47 923.06 L1328.65 920.46 L1333.83 931.73 L1339.00 976.25 L1344.18 970.04 L1349.36 876.08 L1354.54 929.56 L1359.72 957.75 L1364.90 899.64 L1370.08 901.09 L1375.26 853.24 L1380.44 914.38 L1385.62 946.19 L1390.80 938.96 L1395.98 912.65 L1401.16 920.46 L1406.34 900.65 L1411.52 871.02 L1416.70 866.68 L1421.88 902.82 L1427.06 922.62 L1432.23 895.59 L1437.41 927.39 L1442.59 926.24 L1447.77 927.68 L1452.95 911.49 L1458.13 888.65 L1463.31 884.46 L1468.49 951.24 L1473.67 991.72 L1478.85 923.78 L1484.03 904.99 L1489.21 874.63 L1494.39 899.21 L1499.57 941.13 L1504.75 931.01 L1509.93 918.72 L1515.11 897.04 L1520.29 916.12 L1525.46 909.32 L1530.64 901.66 L1535.82 925.66 L1541.00 908.60 L1546.18 915.83 L1551.36 982.03 L1556.54 911.78 L1561.72 932.45 L1566.90 891.26" fill="none" stroke="#6A91BF" stroke-width="3" stroke-linejoin="round" stroke-linecap="round"/></g></svg>
<div class="t" style="left:34.97px;top:795.44px;font-size:15.9px;font-weight:normal;color:#69707D;transform:scaleX(0.9293);-webkit-text-stroke:0.32px #69707D;">52%</div>
<div class="t" style="left:34.97px;top:817.53px;font-size:15.9px;font-weight:normal;color:#69707D;transform:scaleX(0.9293);-webkit-text-stroke:0.32px #69707D;">50%</div>
<div class="t" style="left:35.23px;top:839.62px;font-size:15.9px;font-weight:normal;color:#69707D;transform:scaleX(0.9209);-webkit-text-stroke:0.32px #69707D;">48%</div>
<div class="t" style="left:35.23px;top:861.71px;font-size:15.9px;font-weight:normal;color:#69707D;transform:scaleX(0.9209);-webkit-text-stroke:0.32px #69707D;">46%</div>
<div class="t" style="left:35.23px;top:883.80px;font-size:15.9px;font-weight:normal;color:#69707D;transform:scaleX(0.9209);-webkit-text-stroke:0.32px #69707D;">44%</div>
<div class="t" style="left:35.23px;top:905.89px;font-size:15.9px;font-weight:normal;color:#69707D;transform:scaleX(0.9209);-webkit-text-stroke:0.32px #69707D;">42%</div>
<div class="t" style="left:35.23px;top:927.98px;font-size:15.9px;font-weight:normal;color:#69707D;transform:scaleX(0.9209);-webkit-text-stroke:0.32px #69707D;">40%</div>
<div class="t" style="left:35.01px;top:950.07px;font-size:15.9px;font-weight:normal;color:#69707D;transform:scaleX(0.9281);-webkit-text-stroke:0.32px #69707D;">38%</div>
<div class="t" style="left:35.01px;top:972.16px;font-size:15.9px;font-weight:normal;color:#69707D;transform:scaleX(0.9281);-webkit-text-stroke:0.32px #69707D;">36%</div>
<div class="t" style="left:159.40px;top:1009.24px;font-size:15.9px;font-weight:normal;color:#69707D;transform:scaleX(1.0129);-webkit-text-stroke:0.32px #69707D;">12:00:00</div>
<div class="t" style="left:345.82px;top:1009.24px;font-size:15.9px;font-weight:normal;color:#69707D;transform:scaleX(1.0129);-webkit-text-stroke:0.32px #69707D;">15:00:00</div>
<div class="t" style="left:532.24px;top:1009.24px;font-size:15.9px;font-weight:normal;color:#69707D;transform:scaleX(1.0129);-webkit-text-stroke:0.32px #69707D;">18:00:00</div>
<div class="t" style="left:719.07px;top:1009.24px;font-size:15.9px;font-weight:normal;color:#69707D;transform:scaleX(1.0063);-webkit-text-stroke:0.32px #69707D;">21:00:00</div>
<div class="t" style="left:905.69px;top:1009.24px;font-size:15.9px;font-weight:normal;color:#69707D;transform:scaleX(1.0030);-webkit-text-stroke:0.32px #69707D;">00:00:00</div>
<div class="t" style="left:1092.11px;top:1009.24px;font-size:15.9px;font-weight:normal;color:#69707D;transform:scaleX(1.0030);-webkit-text-stroke:0.32px #69707D;">03:00:00</div>
<div class="t" style="left:1278.53px;top:1009.24px;font-size:15.9px;font-weight:normal;color:#69707D;transform:scaleX(1.0030);-webkit-text-stroke:0.32px #69707D;">06:00:00</div>
<div class="t" style="left:1464.95px;top:1009.24px;font-size:15.9px;font-weight:normal;color:#69707D;transform:scaleX(1.0030);-webkit-text-stroke:0.32px #69707D;">09:00:00</div>
<div class="a" style="left:0px;top:0px;width:18px;height:1038px;background:linear-gradient(to right,rgba(0,0,0,.028),rgba(0,0,0,0));"></div>
</body></html>
